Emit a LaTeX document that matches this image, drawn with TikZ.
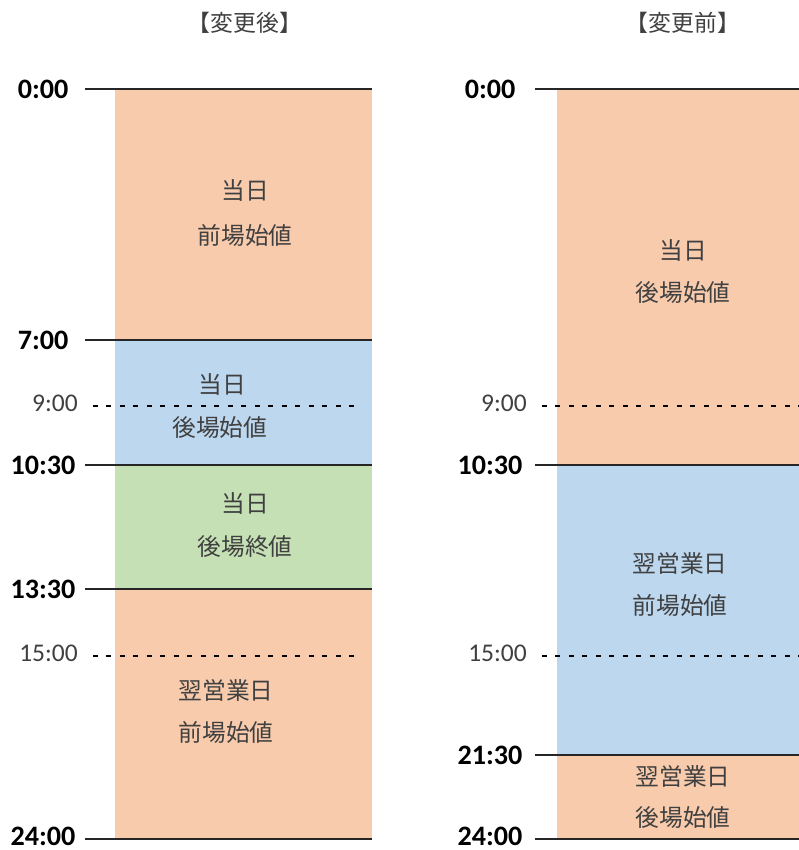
\documentclass[tikz,border=0pt]{standalone}
\usepackage{fontspec}
\setmainfont{Carlito}
\newfontfamily\jpfont{Noto Sans CJK JP}
\usetikzlibrary{positioning}
\definecolor{amorange}{HTML}{F8CBAD}
\definecolor{pmblue}{HTML}{BDD7EE}
\definecolor{closegreen}{HTML}{C5E0B4}
\definecolor{txtgray}{HTML}{404040}

\begin{document}
\begin{tikzpicture}[x=0.02cm,y=-0.02cm,
    hour/.style={font=\bfseries\fontsize{16}{18}\selectfont},
    subhour/.style={anchor=east,text=txtgray,font=\fontsize{14.5}{16}\selectfont},
    jlabel/.style={text=txtgray,font=\jpfont\fontsize{13.5}{16}\selectfont,inner sep=1pt},
    jtitle/.style={text=txtgray,font=\jpfont\fontsize{13}{15}\selectfont},
    rule/.style={line width=0.9pt,black!85},
    halfrule/.style={line width=0.6pt,dash pattern=on 0.1cm off 0.17cm}]
  \useasboundingbox (0,0) rectangle (799,850);
  % left: after the change
  \fill[amorange] (115,89) rectangle (372,340);
  \fill[pmblue] (115,340) rectangle (372,465);
  \fill[closegreen] (115,465) rectangle (372,589);
  \fill[amorange] (115,589) rectangle (372,839);
  \node[jtitle] (lefttitle) at (245,23) {【変更後】};
  \node[hour] (l0) at (43,89) {0:00};
  \node[hour] (l7) at (43,340) {7:00};
  \node[hour] (l1030) at (43,465) {10:30};
  \node[hour] (l1330) at (43,589) {13:30};
  \node[hour] (l24) at (43,836) {24:00};
  \node[subhour] (l9) at (84,403) {9:00};
  \node[subhour] (l15) at (84,653) {15:00};
  \coordinate (la0) at (85,89);    \coordinate (lb0) at (372,89);
  \coordinate (la7) at (85,340);   \coordinate (lb7) at (372,340);
  \coordinate (la1030) at (85,465); \coordinate (lb1030) at (372,465);
  \coordinate (la1330) at (85,589); \coordinate (lb1330) at (372,589);
  \coordinate (la24) at (85,839);  \coordinate (lb24) at (372,839);
  \coordinate (la9) at (93,406);   \coordinate (lb9) at (358,406);
  \coordinate (la15) at (93,656);  \coordinate (lb15) at (358,656);
  \draw[rule] (la0) -- (lb0);
  \draw[rule] (la7) -- (lb7);
  \draw[rule] (la1030) -- (lb1030);
  \draw[rule] (la1330) -- (lb1330);
  \draw[rule] (la24) -- (lb24);
  \draw[halfrule] (la9) -- (lb9);
  \draw[halfrule] (la15) -- (lb15);
  \node[jlabel] (lam1) at (245,190) {当日};
  \node[jlabel] (lam2) at (245,235) {前場始値};
  \node[jlabel] (lpm1) at (222,384) {当日};
  \node[jlabel] (lpm2) at (220,428) {後場始値};
  \node[jlabel] (lcl1) at (245,503) {当日};
  \node[jlabel] (lcl2) at (245,547) {後場終値};
  \node[jlabel] (lnx1) at (226,690) {翌営業日};
  \node[jlabel] (lnx2) at (226,732) {前場始値};
  % right: before the change
  \fill[amorange] (557,89) rectangle (799,465);
  \fill[pmblue] (557,465) rectangle (799,755);
  \fill[amorange] (557,755) rectangle (799,839);
  \node[jtitle] (righttitle) at (683,23) {【変更前】};
  \node[hour] (r0) at (490,89) {0:00};
  \node[hour] (r1030) at (490,465) {10:30};
  \node[hour] (r2130) at (490,755) {21:30};
  \node[hour] (r24) at (490,836) {24:00};
  \node[subhour] (r9) at (533,403) {9:00};
  \node[subhour] (r15) at (533,653) {15:00};
  \coordinate (ra0) at (535,89);    \coordinate (rb0) at (799,89);
  \coordinate (ra1030) at (535,465); \coordinate (rb1030) at (799,465);
  \coordinate (ra2130) at (535,755); \coordinate (rb2130) at (799,755);
  \coordinate (ra24) at (535,839);  \coordinate (rb24) at (799,839);
  \coordinate (ra9) at (542,406);   \coordinate (rb9) at (799,406);
  \coordinate (ra15) at (542,656);  \coordinate (rb15) at (799,656);
  \draw[rule] (ra0) -- (rb0);
  \draw[rule] (ra1030) -- (rb1030);
  \draw[rule] (ra2130) -- (rb2130);
  \draw[rule] (ra24) -- (rb24);
  \draw[halfrule] (ra9) -- (rb9);
  \draw[halfrule] (ra15) -- (rb15);
  \node[jlabel] (rpm1) at (683,250) {当日};
  \node[jlabel] (rpm2) at (683,293) {後場始値};
  \node[jlabel] (ram1) at (680,563) {翌営業日};
  \node[jlabel] (ram2) at (680,605) {前場始値};
  \node[jlabel] (rnx1) at (683,776) {翌営業日};
  \node[jlabel] (rnx2) at (683,818) {後場始値};
\end{tikzpicture}
\end{document}
